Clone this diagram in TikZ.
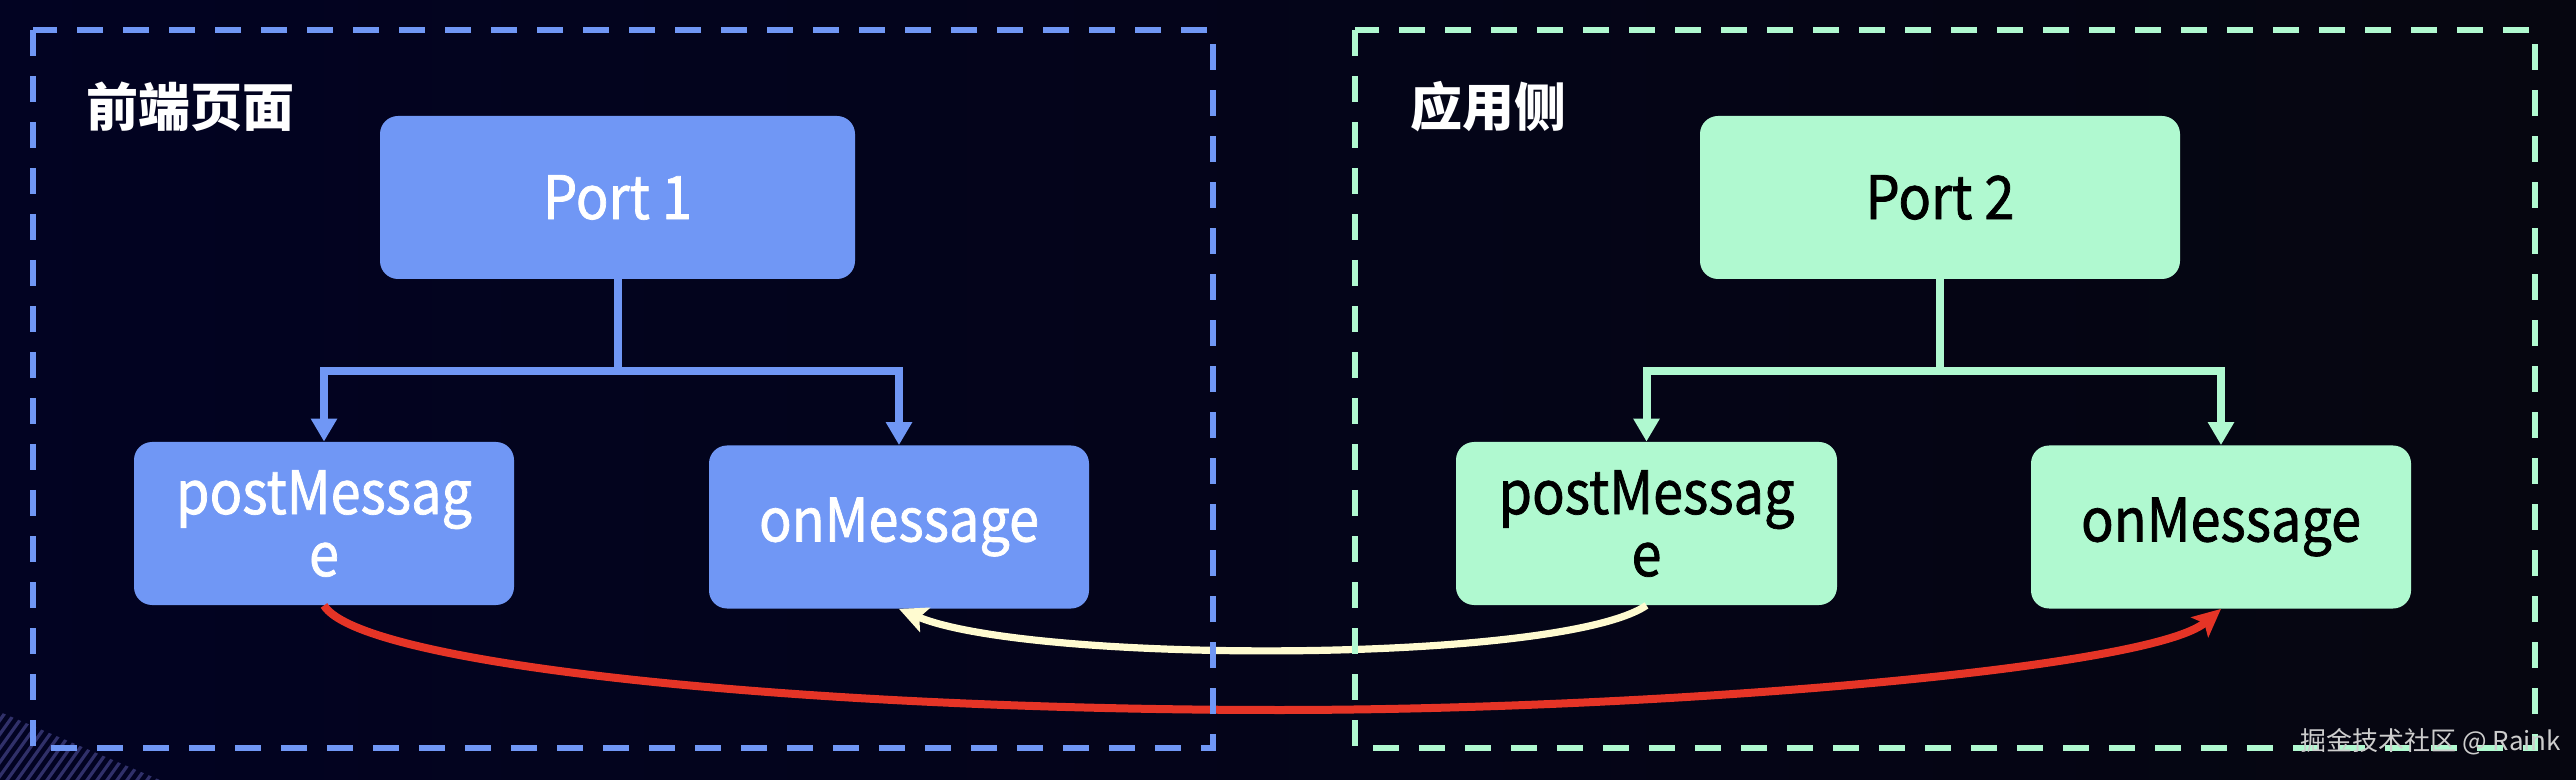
\documentclass[tikz,border=0pt]{standalone}
\usepackage{fontspec}
\setmainfont{Noto Sans CJK SC}
\newfontfamily\boxfont[FakeStretch=0.9,FakeBold=1.2]{Noto Sans CJK SC}
\usetikzlibrary{arrows.meta}
\definecolor{bgL}{RGB}{2,3,34}
\definecolor{bgR}{RGB}{6,6,16}
\definecolor{blueC}{RGB}{112,151,245}
\definecolor{greenC}{RGB}{176,249,208}
\definecolor{redC}{RGB}{229,52,38}
\definecolor{creamC}{RGB}{255,251,208}
\definecolor{stripeC}{RGB}{48,48,105}
\definecolor{markC}{RGB}{205,205,205}
\begin{document}
\begin{tikzpicture}[x=0.5pt,y=-0.5pt,
  frameB/.style={draw=blueC, line width=3.25pt, dash pattern=on 13pt off 10pt},
  frameG/.style={draw=greenC, line width=3.25pt, dash pattern=on 13pt off 10pt},
  titletext/.style={inner sep=0pt, text=white, font=\fontsize{26}{26}\selectfont\bfseries},
  boxbase/.style={rounded corners=9pt, inner sep=0pt, align=center, minimum height=81.5pt,
    font=\boxfont\fontsize{30}{31}\selectfont},
  boxB/.style={boxbase, fill=blueC, text=white},
  boxG/.style={boxbase, fill=greenC, text=black},
  treeB/.style={draw=blueC, line width=4pt},
  treeG/.style={draw=greenC, line width=4pt},
  droptip/.style={-{Triangle[width=12.5pt,length=11.5pt]}},
  curvetip/.style={-{Stealth[length=14pt,width=13pt,inset=3pt]}},
  redline/.style={draw=redC, line width=4pt, curvetip},
  creamline/.style={draw=creamC, line width=3.6pt, curvetip},
  stripe/.style={draw=stripeC, line width=1.6pt}
]
% background
\shade[left color=bgL, right color=bgR] (0,0) rectangle (2576,780);
\useasboundingbox (0,0) rectangle (2576,780);

% faint stripes in the bottom-left corner
\begin{scope}
  \clip (0,712) -- (160,780) -- (0,780) -- cycle;
  \foreach \k in {-12,...,22} {
    \draw[stripe] (\k*10,790) -- (\k*10+70,692);
  }
\end{scope}

% titles
\node[titletext, anchor=base west] (tL) at (86,127) {前端页面};
\node[titletext, anchor=base west] (tR) at (1410,127) {应用侧};

% boxes
\node[boxB, minimum width=237.5pt] (p1) at (617.5,197.5) {Port 1};
\node[boxG, minimum width=240pt] (p2) at (1940,197.5) {Port 2};
\node[boxB, minimum width=190pt] (pmL) at (324,523.5) {postMessag\\e};
\node[boxB, minimum width=190pt] (omL) at (899,527) {onMessage};
\node[boxG, minimum width=190.5pt] (pmR) at (1646.5,523.5) {postMessag\\e};
\node[boxG, minimum width=190pt] (omR) at (2221,527) {onMessage};

% tree connectors
\draw[treeB] (p1.south) -- ++(0,92) coordinate (j1);
\draw[treeB, droptip] (j1) -| (pmL.north);
\draw[treeB, droptip] (j1) -| (omL.north);
\draw[treeG] (p2.south) -- ++(0,92) coordinate (j2);
\draw[treeG, droptip] (j2) -| (pmR.north);
\draw[treeG, droptip] (j2) -| (omR.north);

% message curves
\coordinate (rm) at (1280,710);
\draw[redline] (pmL.south) .. controls (360,665) and (800,710) .. (rm)
  .. controls (1650,710) and (2150,670) .. (omR.south);
\draw[creamline] (pmR.south) .. controls (1560,664) and (1030,664) .. (omL.south);

% dashed frames
\draw[frameB] (33,30) rectangle (1213,748);
\draw[frameG] (1355,30) rectangle (2535,748);

% watermark
\node[anchor=west, inner sep=0pt, text=markC, font=\fontsize{13}{13}\selectfont] (wm) at (2300,742) {掘金技术社区 @ Raink};
\end{tikzpicture}
\end{document}
